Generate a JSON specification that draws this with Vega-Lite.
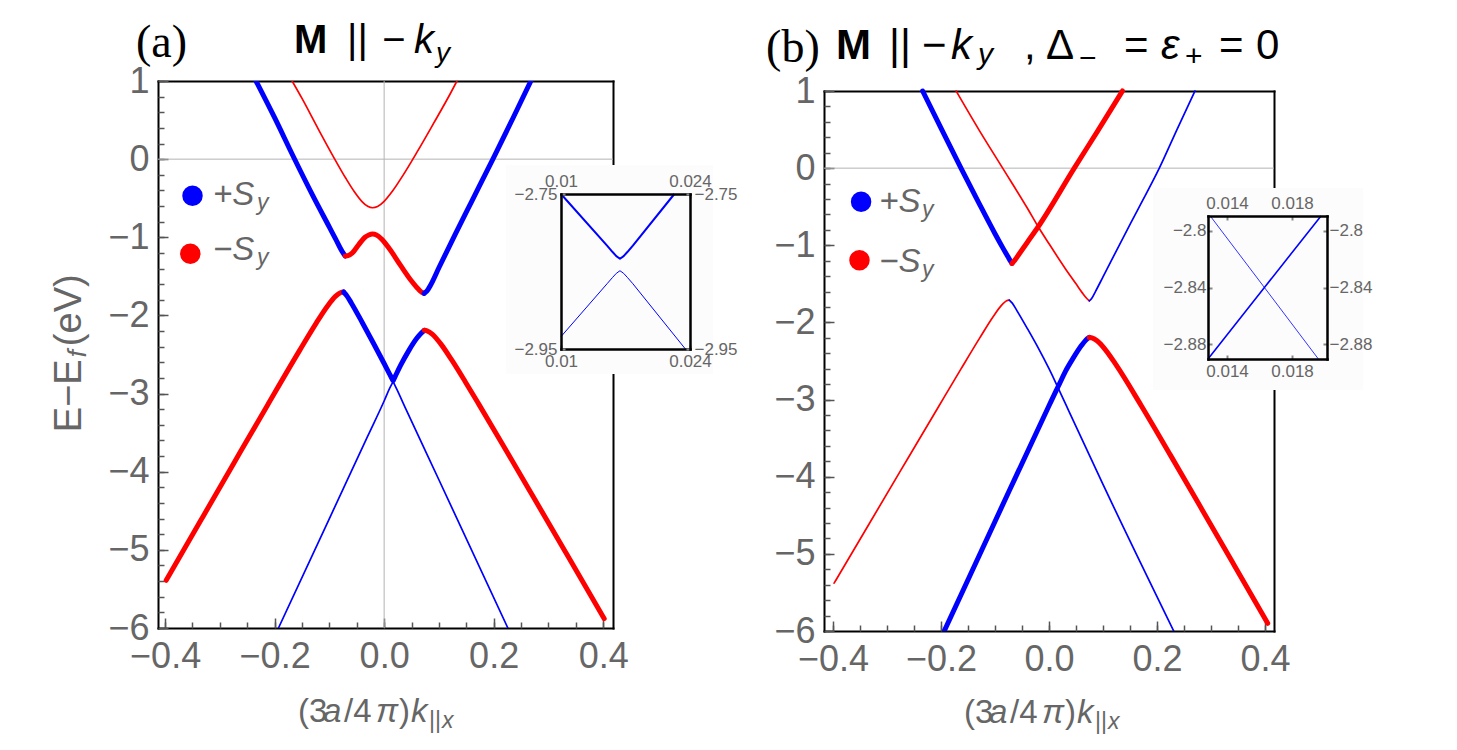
{
  "$schema": "https://vega.github.io/schema/vega-lite/v6.json",
  "background": "white",
  "padding": {"left": 51, "top": 20, "right": 10, "bottom": 10},
  "config": {"view": {"stroke": null}, "text": {"font": "Liberation Sans"}},
  "datasets": {
    "bands": [
      {"panel":"a","seg":"a1","spin":"-Sy","weight":"thin","k":-0.168,"E":1.0},
      {"panel":"a","seg":"a1","spin":"-Sy","weight":"thin","k":-0.15,"E":0.777},
      {"panel":"a","seg":"a1","spin":"-Sy","weight":"thin","k":-0.12,"E":0.382},
      {"panel":"a","seg":"a1","spin":"-Sy","weight":"thin","k":-0.09,"E":-0.002},
      {"panel":"a","seg":"a1","spin":"-Sy","weight":"thin","k":-0.07,"E":-0.245},
      {"panel":"a","seg":"a1","spin":"-Sy","weight":"thin","k":-0.055,"E":-0.411},
      {"panel":"a","seg":"a1","spin":"-Sy","weight":"thin","k":-0.04,"E":-0.546},
      {"panel":"a","seg":"a1","spin":"-Sy","weight":"thin","k":-0.03,"E":-0.604},
      {"panel":"a","seg":"a1","spin":"-Sy","weight":"thin","k":-0.021,"E":-0.622},
      {"panel":"a","seg":"a1","spin":"-Sy","weight":"thin","k":-0.012,"E":-0.606},
      {"panel":"a","seg":"a1","spin":"-Sy","weight":"thin","k":0.0,"E":-0.54},
      {"panel":"a","seg":"a1","spin":"-Sy","weight":"thin","k":0.015,"E":-0.412},
      {"panel":"a","seg":"a1","spin":"-Sy","weight":"thin","k":0.035,"E":-0.201},
      {"panel":"a","seg":"a1","spin":"-Sy","weight":"thin","k":0.06,"E":0.089},
      {"panel":"a","seg":"a1","spin":"-Sy","weight":"thin","k":0.09,"E":0.454},
      {"panel":"a","seg":"a1","spin":"-Sy","weight":"thin","k":0.12,"E":0.827},
      {"panel":"a","seg":"a1","spin":"-Sy","weight":"thin","k":0.133,"E":1.0},

      {"panel":"a","seg":"a2L","spin":"+Sy","weight":"thick","k":-0.234,"E":1.0},
      {"panel":"a","seg":"a2L","spin":"+Sy","weight":"thick","k":-0.2,"E":0.53},
      {"panel":"a","seg":"a2L","spin":"+Sy","weight":"thick","k":-0.167,"E":0.05},
      {"panel":"a","seg":"a2L","spin":"+Sy","weight":"thick","k":-0.13,"E":-0.47},
      {"panel":"a","seg":"a2L","spin":"+Sy","weight":"thick","k":-0.1,"E":-0.87},
      {"panel":"a","seg":"a2L","spin":"+Sy","weight":"thick","k":-0.088,"E":-1.03},
      {"panel":"a","seg":"a2L","spin":"+Sy","weight":"thick","k":-0.08,"E":-1.14},
      {"panel":"a","seg":"a2L","spin":"+Sy","weight":"thick","k":-0.075,"E":-1.2},
      {"panel":"a","seg":"a2L","spin":"+Sy","weight":"thick","k":-0.071,"E":-1.24},

      {"panel":"a","seg":"a2M","spin":"-Sy","weight":"thick","k":-0.071,"E":-1.24},
      {"panel":"a","seg":"a2M","spin":"-Sy","weight":"thick","k":-0.066,"E":-1.235},
      {"panel":"a","seg":"a2M","spin":"-Sy","weight":"thick","k":-0.058,"E":-1.2},
      {"panel":"a","seg":"a2M","spin":"-Sy","weight":"thick","k":-0.046,"E":-1.09},
      {"panel":"a","seg":"a2M","spin":"-Sy","weight":"thick","k":-0.035,"E":-1.0},
      {"panel":"a","seg":"a2M","spin":"-Sy","weight":"thick","k":-0.028,"E":-0.97},
      {"panel":"a","seg":"a2M","spin":"-Sy","weight":"thick","k":-0.021,"E":-0.959},
      {"panel":"a","seg":"a2M","spin":"-Sy","weight":"thick","k":-0.014,"E":-0.97},
      {"panel":"a","seg":"a2M","spin":"-Sy","weight":"thick","k":-0.005,"E":-1.02},
      {"panel":"a","seg":"a2M","spin":"-Sy","weight":"thick","k":0.01,"E":-1.15},
      {"panel":"a","seg":"a2M","spin":"-Sy","weight":"thick","k":0.03,"E":-1.36},
      {"panel":"a","seg":"a2M","spin":"-Sy","weight":"thick","k":0.05,"E":-1.56},
      {"panel":"a","seg":"a2M","spin":"-Sy","weight":"thick","k":0.062,"E":-1.66},
      {"panel":"a","seg":"a2M","spin":"-Sy","weight":"thick","k":0.069,"E":-1.705},
      {"panel":"a","seg":"a2M","spin":"-Sy","weight":"thick","k":0.073,"E":-1.718},

      {"panel":"a","seg":"a2R","spin":"+Sy","weight":"thick","k":0.073,"E":-1.718},
      {"panel":"a","seg":"a2R","spin":"+Sy","weight":"thick","k":0.078,"E":-1.69},
      {"panel":"a","seg":"a2R","spin":"+Sy","weight":"thick","k":0.085,"E":-1.61},
      {"panel":"a","seg":"a2R","spin":"+Sy","weight":"thick","k":0.1,"E":-1.39},
      {"panel":"a","seg":"a2R","spin":"+Sy","weight":"thick","k":0.13,"E":-0.96},
      {"panel":"a","seg":"a2R","spin":"+Sy","weight":"thick","k":0.16,"E":-0.54},
      {"panel":"a","seg":"a2R","spin":"+Sy","weight":"thick","k":0.2,"E":0.02},
      {"panel":"a","seg":"a2R","spin":"+Sy","weight":"thick","k":0.235,"E":0.52},
      {"panel":"a","seg":"a2R","spin":"+Sy","weight":"thick","k":0.268,"E":1.0},

      {"panel":"a","seg":"a3L","spin":"-Sy","weight":"thick","k":-0.398,"E":-5.39},
      {"panel":"a","seg":"a3L","spin":"-Sy","weight":"thick","k":-0.334,"E":-4.6125},
      {"panel":"a","seg":"a3L","spin":"-Sy","weight":"thick","k":-0.274,"E":-3.8849},
      {"panel":"a","seg":"a3L","spin":"-Sy","weight":"thick","k":-0.213,"E":-3.148},
      {"panel":"a","seg":"a3L","spin":"-Sy","weight":"thick","k":-0.154,"E":-2.4441},
      {"panel":"a","seg":"a3L","spin":"-Sy","weight":"thick","k":-0.124,"E":-2.0986},
      {"panel":"a","seg":"a3L","spin":"-Sy","weight":"thick","k":-0.104,"E":-1.886},
      {"panel":"a","seg":"a3L","spin":"-Sy","weight":"thick","k":-0.089,"E":-1.7567},
      {"panel":"a","seg":"a3L","spin":"-Sy","weight":"thick","k":-0.079,"E":-1.7069},
      {"panel":"a","seg":"a3L","spin":"-Sy","weight":"thick","k":-0.074,"E":-1.7},

      {"panel":"a","seg":"a3M","spin":"+Sy","weight":"thick","k":-0.074,"E":-1.7},
      {"panel":"a","seg":"a3M","spin":"+Sy","weight":"thick","k":-0.068,"E":-1.75},
      {"panel":"a","seg":"a3M","spin":"+Sy","weight":"thick","k":-0.06,"E":-1.84},
      {"panel":"a","seg":"a3M","spin":"+Sy","weight":"thick","k":-0.04,"E":-2.09},
      {"panel":"a","seg":"a3M","spin":"+Sy","weight":"thick","k":-0.02,"E":-2.35},
      {"panel":"a","seg":"a3M","spin":"+Sy","weight":"thick","k":0.0,"E":-2.615},
      {"panel":"a","seg":"a3M","spin":"+Sy","weight":"thick","k":0.01,"E":-2.75},
      {"panel":"a","seg":"a3M","spin":"+Sy","weight":"thick","k":0.015,"E":-2.8167},
      {"panel":"a","seg":"a3M","spin":"+Sy","weight":"thick","k":0.0156,"E":-2.8249},
      {"panel":"a","seg":"a3M","spin":"+Sy","weight":"thick","k":0.016,"E":-2.8301},
      {"panel":"a","seg":"a3M","spin":"+Sy","weight":"thick","k":0.0164,"E":-2.8335},
      {"panel":"a","seg":"a3M","spin":"+Sy","weight":"thick","k":0.0168,"E":-2.8301},
      {"panel":"a","seg":"a3M","spin":"+Sy","weight":"thick","k":0.0172,"E":-2.8249},
      {"panel":"a","seg":"a3M","spin":"+Sy","weight":"thick","k":0.0178,"E":-2.8167},
      {"panel":"a","seg":"a3M","spin":"+Sy","weight":"thick","k":0.0223,"E":-2.75},
      {"panel":"a","seg":"a3M","spin":"+Sy","weight":"thick","k":0.03,"E":-2.64},
      {"panel":"a","seg":"a3M","spin":"+Sy","weight":"thick","k":0.045,"E":-2.45},
      {"panel":"a","seg":"a3M","spin":"+Sy","weight":"thick","k":0.06,"E":-2.29},
      {"panel":"a","seg":"a3M","spin":"+Sy","weight":"thick","k":0.068,"E":-2.225},
      {"panel":"a","seg":"a3M","spin":"+Sy","weight":"thick","k":0.0734,"E":-2.19},

      {"panel":"a","seg":"a3R","spin":"-Sy","weight":"thick","k":0.0734,"E":-2.19},
      {"panel":"a","seg":"a3R","spin":"-Sy","weight":"thick","k":0.0784,"E":-2.1962},
      {"panel":"a","seg":"a3R","spin":"-Sy","weight":"thick","k":0.0884,"E":-2.2419},
      {"panel":"a","seg":"a3R","spin":"-Sy","weight":"thick","k":0.1034,"E":-2.364},
      {"panel":"a","seg":"a3R","spin":"-Sy","weight":"thick","k":0.1234,"E":-2.5699},
      {"panel":"a","seg":"a3R","spin":"-Sy","weight":"thick","k":0.1484,"E":-2.8511},
      {"panel":"a","seg":"a3R","spin":"-Sy","weight":"thick","k":0.1739,"E":-3.148},
      {"panel":"a","seg":"a3R","spin":"-Sy","weight":"thick","k":0.2234,"E":-3.7349},
      {"panel":"a","seg":"a3R","spin":"-Sy","weight":"thick","k":0.2734,"E":-4.3333},
      {"panel":"a","seg":"a3R","spin":"-Sy","weight":"thick","k":0.3334,"E":-5.0542},
      {"panel":"a","seg":"a3R","spin":"-Sy","weight":"thick","k":0.402,"E":-5.8802},

      {"panel":"a","seg":"a4","spin":"+Sy","weight":"thin","k":-0.193,"E":-6.0},
      {"panel":"a","seg":"a4","spin":"+Sy","weight":"thin","k":-0.1,"E":-4.6},
      {"panel":"a","seg":"a4","spin":"+Sy","weight":"thin","k":-0.03,"E":-3.545},
      {"panel":"a","seg":"a4","spin":"+Sy","weight":"thin","k":0.0,"E":-3.095},
      {"panel":"a","seg":"a4","spin":"+Sy","weight":"thin","k":0.01,"E":-2.934},
      {"panel":"a","seg":"a4","spin":"+Sy","weight":"thin","k":0.015,"E":-2.8658},
      {"panel":"a","seg":"a4","spin":"+Sy","weight":"thin","k":0.0156,"E":-2.8576},
      {"panel":"a","seg":"a4","spin":"+Sy","weight":"thin","k":0.016,"E":-2.8524},
      {"panel":"a","seg":"a4","spin":"+Sy","weight":"thin","k":0.0164,"E":-2.849},
      {"panel":"a","seg":"a4","spin":"+Sy","weight":"thin","k":0.0168,"E":-2.8524},
      {"panel":"a","seg":"a4","spin":"+Sy","weight":"thin","k":0.0172,"E":-2.8576},
      {"panel":"a","seg":"a4","spin":"+Sy","weight":"thin","k":0.0178,"E":-2.8658},
      {"panel":"a","seg":"a4","spin":"+Sy","weight":"thin","k":0.0235,"E":-2.95},
      {"panel":"a","seg":"a4","spin":"+Sy","weight":"thin","k":0.04,"E":-3.203},
      {"panel":"a","seg":"a4","spin":"+Sy","weight":"thin","k":0.1,"E":-4.103},
      {"panel":"a","seg":"a4","spin":"+Sy","weight":"thin","k":0.226,"E":-6.0},

      {"panel":"b","seg":"b1L","spin":"+Sy","weight":"thick","k":-0.234,"E":1.0},
      {"panel":"b","seg":"b1L","spin":"+Sy","weight":"thick","k":-0.2,"E":0.52},
      {"panel":"b","seg":"b1L","spin":"+Sy","weight":"thick","k":-0.163,"E":0.0},
      {"panel":"b","seg":"b1L","spin":"+Sy","weight":"thick","k":-0.13,"E":-0.45},
      {"panel":"b","seg":"b1L","spin":"+Sy","weight":"thick","k":-0.1,"E":-0.85},
      {"panel":"b","seg":"b1L","spin":"+Sy","weight":"thick","k":-0.085,"E":-1.04},
      {"panel":"b","seg":"b1L","spin":"+Sy","weight":"thick","k":-0.076,"E":-1.15},
      {"panel":"b","seg":"b1L","spin":"+Sy","weight":"thick","k":-0.071,"E":-1.21},
      {"panel":"b","seg":"b1L","spin":"+Sy","weight":"thick","k":-0.0686,"E":-1.235},

      {"panel":"b","seg":"b1R","spin":"-Sy","weight":"thick","k":-0.0686,"E":-1.235},
      {"panel":"b","seg":"b1R","spin":"-Sy","weight":"thick","k":-0.064,"E":-1.2},
      {"panel":"b","seg":"b1R","spin":"-Sy","weight":"thick","k":-0.055,"E":-1.11},
      {"panel":"b","seg":"b1R","spin":"-Sy","weight":"thick","k":-0.04,"E":-0.96},
      {"panel":"b","seg":"b1R","spin":"-Sy","weight":"thick","k":-0.02,"E":-0.76},
      {"panel":"b","seg":"b1R","spin":"-Sy","weight":"thick","k":0.0468,"E":0.0},
      {"panel":"b","seg":"b1R","spin":"-Sy","weight":"thick","k":0.09,"E":0.48},
      {"panel":"b","seg":"b1R","spin":"-Sy","weight":"thick","k":0.136,"E":1.0},

      {"panel":"b","seg":"b2L","spin":"-Sy","weight":"thin","k":-0.172,"E":1.0},
      {"panel":"b","seg":"b2L","spin":"-Sy","weight":"thin","k":-0.13,"E":0.5},
      {"panel":"b","seg":"b2L","spin":"-Sy","weight":"thin","k":-0.0858,"E":0.0},
      {"panel":"b","seg":"b2L","spin":"-Sy","weight":"thin","k":-0.04,"E":-0.52},
      {"panel":"b","seg":"b2L","spin":"-Sy","weight":"thin","k":-0.02,"E":-0.76},
      {"panel":"b","seg":"b2L","spin":"-Sy","weight":"thin","k":0.0,"E":-0.98},
      {"panel":"b","seg":"b2L","spin":"-Sy","weight":"thin","k":0.03,"E":-1.3},
      {"panel":"b","seg":"b2L","spin":"-Sy","weight":"thin","k":0.05,"E":-1.5},
      {"panel":"b","seg":"b2L","spin":"-Sy","weight":"thin","k":0.062,"E":-1.62},
      {"panel":"b","seg":"b2L","spin":"-Sy","weight":"thin","k":0.07,"E":-1.69},
      {"panel":"b","seg":"b2L","spin":"-Sy","weight":"thin","k":0.0746,"E":-1.72},

      {"panel":"b","seg":"b2R","spin":"+Sy","weight":"thin","k":0.0746,"E":-1.72},
      {"panel":"b","seg":"b2R","spin":"+Sy","weight":"thin","k":0.079,"E":-1.69},
      {"panel":"b","seg":"b2R","spin":"+Sy","weight":"thin","k":0.086,"E":-1.6},
      {"panel":"b","seg":"b2R","spin":"+Sy","weight":"thin","k":0.1,"E":-1.41},
      {"panel":"b","seg":"b2R","spin":"+Sy","weight":"thin","k":0.13,"E":-1.0},
      {"panel":"b","seg":"b2R","spin":"+Sy","weight":"thin","k":0.165,"E":-0.53},
      {"panel":"b","seg":"b2R","spin":"+Sy","weight":"thin","k":0.2043,"E":0.0},
      {"panel":"b","seg":"b2R","spin":"+Sy","weight":"thin","k":0.237,"E":0.5},
      {"panel":"b","seg":"b2R","spin":"+Sy","weight":"thin","k":0.2703,"E":1.0},

      {"panel":"b","seg":"b3L","spin":"-Sy","weight":"thin","k":-0.398,"E":-5.38},
      {"panel":"b","seg":"b3L","spin":"-Sy","weight":"thin","k":-0.3335,"E":-4.6158},
      {"panel":"b","seg":"b3L","spin":"-Sy","weight":"thin","k":-0.2735,"E":-3.9056},
      {"panel":"b","seg":"b3L","spin":"-Sy","weight":"thin","k":-0.203,"E":-3.073},
      {"panel":"b","seg":"b3L","spin":"-Sy","weight":"thin","k":-0.1635,"E":-2.6091},
      {"panel":"b","seg":"b3L","spin":"-Sy","weight":"thin","k":-0.1285,"E":-2.2036},
      {"panel":"b","seg":"b3L","spin":"-Sy","weight":"thin","k":-0.1035,"E":-1.9264},
      {"panel":"b","seg":"b3L","spin":"-Sy","weight":"thin","k":-0.0885,"E":-1.7818},
      {"panel":"b","seg":"b3L","spin":"-Sy","weight":"thin","k":-0.0785,"E":-1.7193},
      {"panel":"b","seg":"b3L","spin":"-Sy","weight":"thin","k":-0.0735,"E":-1.71},

      {"panel":"b","seg":"b3R","spin":"+Sy","weight":"thin","k":-0.0735,"E":-1.71},
      {"panel":"b","seg":"b3R","spin":"+Sy","weight":"thin","k":-0.068,"E":-1.75},
      {"panel":"b","seg":"b3R","spin":"+Sy","weight":"thin","k":-0.06,"E":-1.84},
      {"panel":"b","seg":"b3R","spin":"+Sy","weight":"thin","k":-0.04,"E":-2.08},
      {"panel":"b","seg":"b3R","spin":"+Sy","weight":"thin","k":-0.02,"E":-2.33},
      {"panel":"b","seg":"b3R","spin":"+Sy","weight":"thin","k":0.0,"E":-2.6},
      {"panel":"b","seg":"b3R","spin":"+Sy","weight":"thin","k":0.01297,"E":-2.7897},
      {"panel":"b","seg":"b3R","spin":"+Sy","weight":"thin","k":0.0163,"E":-2.84},
      {"panel":"b","seg":"b3R","spin":"+Sy","weight":"thin","k":0.01962,"E":-2.8903},
      {"panel":"b","seg":"b3R","spin":"+Sy","weight":"thin","k":0.0315,"E":-3.07},
      {"panel":"b","seg":"b3R","spin":"+Sy","weight":"thin","k":0.1,"E":-4.1},
      {"panel":"b","seg":"b3R","spin":"+Sy","weight":"thin","k":0.231,"E":-6.0},

      {"panel":"b","seg":"b4L","spin":"+Sy","weight":"thick","k":-0.194,"E":-6.0},
      {"panel":"b","seg":"b4L","spin":"+Sy","weight":"thick","k":-0.1,"E":-4.58},
      {"panel":"b","seg":"b4L","spin":"+Sy","weight":"thick","k":0.0006,"E":-3.07},
      {"panel":"b","seg":"b4L","spin":"+Sy","weight":"thick","k":0.01283,"E":-2.8903},
      {"panel":"b","seg":"b4L","spin":"+Sy","weight":"thick","k":0.0163,"E":-2.84},
      {"panel":"b","seg":"b4L","spin":"+Sy","weight":"thick","k":0.01978,"E":-2.7897},
      {"panel":"b","seg":"b4L","spin":"+Sy","weight":"thick","k":0.03,"E":-2.64},
      {"panel":"b","seg":"b4L","spin":"+Sy","weight":"thick","k":0.045,"E":-2.46},
      {"panel":"b","seg":"b4L","spin":"+Sy","weight":"thick","k":0.06,"E":-2.3},
      {"panel":"b","seg":"b4L","spin":"+Sy","weight":"thick","k":0.068,"E":-2.23},
      {"panel":"b","seg":"b4L","spin":"+Sy","weight":"thick","k":0.0746,"E":-2.195},

      {"panel":"b","seg":"b4R","spin":"-Sy","weight":"thick","k":0.0746,"E":-2.195},
      {"panel":"b","seg":"b4R","spin":"-Sy","weight":"thick","k":0.0796,"E":-2.2005},
      {"panel":"b","seg":"b4R","spin":"-Sy","weight":"thick","k":0.0896,"E":-2.2413},
      {"panel":"b","seg":"b4R","spin":"-Sy","weight":"thick","k":0.1046,"E":-2.355},
      {"panel":"b","seg":"b4R","spin":"-Sy","weight":"thick","k":0.1246,"E":-2.554},
      {"panel":"b","seg":"b4R","spin":"-Sy","weight":"thick","k":0.1704,"E":-3.073},
      {"panel":"b","seg":"b4R","spin":"-Sy","weight":"thick","k":0.2246,"E":-3.717},
      {"panel":"b","seg":"b4R","spin":"-Sy","weight":"thick","k":0.2846,"E":-4.4399},
      {"panel":"b","seg":"b4R","spin":"-Sy","weight":"thick","k":0.3446,"E":-5.1667},
      {"panel":"b","seg":"b4R","spin":"-Sy","weight":"thick","k":0.405,"E":-5.9}
    ],
    "legend": [
      {"panel":"a","spin":"+Sy","k":-0.35,"E":-0.47},
      {"panel":"a","spin":"-Sy","k":-0.354,"E":-1.21},
      {"panel":"b","spin":"+Sy","k":-0.348,"E":-0.436},
      {"panel":"b","spin":"-Sy","k":-0.351,"E":-1.193}
    ],
    "texts": [
      {"panel":"a","role":"tag","text":"(a)","k":-0.4532,"E":1.307},
      {"panel":"a","role":"bold","text":"M","k":-0.1646,"E":1.3585},
      {"panel":"a","role":"plain","text":"||","k":-0.0678,"E":1.3585},
      {"panel":"a","role":"plain","text":"−","k":-0.0035,"E":1.3585},
      {"panel":"a","role":"italic","text":"k","k":0.0546,"E":1.3585},
      {"panel":"a","role":"subIt","text":"y","k":0.0948,"E":1.243},
      {"panel":"a","role":"gray","text":"(3","k":-0.1573,"E":-7.207},
      {"panel":"a","role":"grayIt","text":"a","k":-0.1116,"E":-7.207},
      {"panel":"a","role":"gray","text":"/4","k":-0.0733,"E":-7.207},
      {"panel":"a","role":"grayIt","text":"π","k":-0.0148,"E":-7.207},
      {"panel":"a","role":"gray","text":")","k":0.0272,"E":-7.207},
      {"panel":"a","role":"grayIt","text":"k","k":0.0491,"E":-7.207},
      {"panel":"a","role":"graySub","text":"||","k":0.082,"E":-7.284},
      {"panel":"a","role":"graySubIt","text":"x","k":0.1057,"E":-7.284},
      {"panel":"a","role":"grayIt","text":"+S","k":-0.3125,"E":-0.588},
      {"panel":"a","role":"grayIt","text":"−S","k":-0.3125,"E":-1.292},
      {"panel":"a","role":"graySubIt","text":"y","k":-0.2322,"E":-0.657},
      {"panel":"a","role":"graySubIt","text":"y","k":-0.2322,"E":-1.361},
      {"panel":"a","role":"yTitle","text":"E","k":-0.5536,"E":-3.494},
      {"panel":"a","role":"yTitle","text":"−","k":-0.5536,"E":-3.17},
      {"panel":"a","role":"yTitle","text":"E","k":-0.5536,"E":-2.886},
      {"panel":"a","role":"yTitle","text":"(eV)","k":-0.5536,"E":-2.393},
      {"panel":"a","role":"yTitleSub","text":"f","k":-0.5445,"E":-2.534},

      {"panel":"b","role":"tag","text":"(b)","k":-0.524,"E":1.376},
      {"panel":"b","role":"bold","text":"M","k":-0.3945,"E":1.415},
      {"panel":"b","role":"plain","text":"||","k":-0.2963,"E":1.415},
      {"panel":"b","role":"plain","text":"−","k":-0.2352,"E":1.415},
      {"panel":"b","role":"plain","text":",","k":-0.0463,"E":1.415},
      {"panel":"b","role":"plain","text":"Δ","k":-0.0056,"E":1.415},
      {"panel":"b","role":"plain","text":"=","k":0.139,"E":1.415},
      {"panel":"b","role":"plain","text":"=","k":0.3148,"E":1.415},
      {"panel":"b","role":"plain","text":"0","k":0.3833,"E":1.415},
      {"panel":"b","role":"italic","text":"k","k":-0.1815,"E":1.415},
      {"panel":"b","role":"italic","text":"ε","k":0.2074,"E":1.415},
      {"panel":"b","role":"subIt","text":"y","k":-0.1315,"E":1.35},
      {"panel":"b","role":"subPlain","text":"−","k":0.0555,"E":1.298},
      {"panel":"b","role":"subPlain","text":"+","k":0.2518,"E":1.324},
      {"panel":"b","role":"gray","text":"(3","k":-0.1574,"E":-7.197},
      {"panel":"b","role":"grayIt","text":"a","k":-0.1111,"E":-7.197},
      {"panel":"b","role":"gray","text":"/4","k":-0.0722,"E":-7.197},
      {"panel":"b","role":"grayIt","text":"π","k":-0.013,"E":-7.197},
      {"panel":"b","role":"gray","text":")","k":0.0296,"E":-7.197},
      {"panel":"b","role":"grayIt","text":"k","k":0.0518,"E":-7.197},
      {"panel":"b","role":"graySub","text":"||","k":0.0852,"E":-7.275},
      {"panel":"b","role":"graySubIt","text":"x","k":0.1092,"E":-7.275},
      {"panel":"b","role":"grayIt","text":"+S","k":-0.3143,"E":-0.565},
      {"panel":"b","role":"grayIt","text":"−S","k":-0.3143,"E":-1.344},
      {"panel":"b","role":"graySubIt","text":"y","k":-0.2352,"E":-0.634},
      {"panel":"b","role":"graySubIt","text":"y","k":-0.2352,"E":-1.412}
    ]
  },
  "spacing": 211,
  "bounds": "flush",
  "hconcat": [
    {
      "width": 455,
      "height": 547,
      "layer": [
        {
          "layer": [
            {
              "data": {"values": [{}]},
              "mark": {"type": "rule", "color": "#b3b3b3", "strokeWidth": 1},
              "encoding": {"x": {"datum": 0, "type": "quantitative", "scale": {"domain": [-0.413, 0.418], "nice": false, "zero": false}, "axis": null}}
            },
            {
              "data": {"values": [{}]},
              "mark": {"type": "rule", "color": "#b3b3b3", "strokeWidth": 1},
              "encoding": {"y": {"datum": 0, "type": "quantitative", "scale": {"domain": [-6, 1], "nice": false, "zero": false}, "axis": null}}
            },
            {
              "data": {"name": "bands"},
              "transform": [{"filter": "datum.panel === 'a' && datum.weight === 'thin'"}],
              "mark": {"type": "line", "clip": true, "interpolate": "monotone", "strokeWidth": 1.7, "strokeJoin": "round", "strokeCap": "round"},
              "encoding": {
                "x": {"field": "k", "type": "quantitative", "scale": {"domain": [-0.413, 0.418], "nice": false, "zero": false},
                  "axis": {"orient": "bottom", "values": [-0.4, -0.2, 0, 0.2, 0.4], "ticks": true, "tickSize": -10, "tickColor": "#555555", "tickWidth": 1.5, "labels": false, "domain": false, "grid": false, "title": null}},
                "y": {"field": "E", "type": "quantitative", "scale": {"domain": [-6, 1], "nice": false, "zero": false},
                  "axis": {"orient": "left", "values": [-6, -5, -4, -3, -2, -1, 0, 1], "ticks": true, "tickSize": -10, "tickColor": "#555555", "tickWidth": 1.5, "labels": false, "domain": false, "grid": false, "title": null}},
                "detail": {"field": "seg"},
                "color": {"field": "spin", "type": "nominal", "scale": {"domain": ["+Sy", "-Sy"], "range": ["#0000ff", "#ff0000"]}, "legend": null}
              }
            },
            {
              "data": {"name": "bands"},
              "transform": [{"filter": "datum.panel === 'a' && datum.weight === 'thick'"}],
              "mark": {"type": "line", "clip": true, "interpolate": "monotone", "strokeWidth": 5, "strokeJoin": "round", "strokeCap": "round"},
              "encoding": {
                "x": {"field": "k", "type": "quantitative", "scale": {"domain": [-0.413, 0.418], "nice": false, "zero": false},
                  "axis": {"orient": "bottom", "values": [-0.4, -0.2, 0, 0.2, 0.4], "format": ".1f", "ticks": false, "domain": true, "domainColor": "#000000", "domainWidth": 2, "domainCap": "square", "labelFont": "Liberation Sans", "labelFontSize": 36, "labelColor": "#666666", "labelPadding": 11, "labelFlush": false, "labelOverlap": false, "grid": false, "title": null}},
                "y": {"field": "E", "type": "quantitative", "scale": {"domain": [-6, 1], "nice": false, "zero": false},
                  "axis": {"orient": "left", "values": [-6, -5, -4, -3, -2, -1, 0, 1], "format": "d", "ticks": false, "domain": true, "domainColor": "#000000", "domainWidth": 2, "domainCap": "square", "labelFont": "Liberation Sans", "labelFontSize": 36, "labelColor": "#666666", "labelPadding": 9, "labelOverlap": false, "grid": false, "title": null}},
                "detail": {"field": "seg"},
                "color": {"field": "spin", "type": "nominal", "scale": {"domain": ["+Sy", "-Sy"], "range": ["#0000ff", "#ff0000"]}, "legend": null}
              }
            },
            {
              "data": {"name": "legend"},
              "transform": [{"filter": "datum.panel === 'a'"}],
              "mark": {"type": "point", "shape": "circle", "filled": true, "size": 420, "opacity": 1},
              "encoding": {
                "x": {"field": "k", "type": "quantitative", "scale": {"domain": [-0.413, 0.418], "nice": false, "zero": false},
                  "axis": {"orient": "bottom", "values": [-0.4, -0.35, -0.3, -0.25, -0.2, -0.15, -0.1, -0.05, 0, 0.05, 0.1, 0.15, 0.2, 0.25, 0.3, 0.35, 0.4], "ticks": true, "tickSize": -6, "tickColor": "#555555", "tickWidth": 1.5, "labels": false, "domain": false, "grid": false, "title": null}},
                "y": {"field": "E", "type": "quantitative", "scale": {"domain": [-6, 1], "nice": false, "zero": false},
                  "axis": {"orient": "left", "values": [-6, -5.8, -5.6, -5.4, -5.2, -5, -4.8, -4.6, -4.4, -4.2, -4, -3.8, -3.6, -3.4, -3.2, -3, -2.8, -2.6, -2.4, -2.2, -2, -1.8, -1.6, -1.4, -1.2, -1, -0.8, -0.6, -0.4, -0.2, 0, 0.2, 0.4, 0.6, 0.8, 1], "ticks": true, "tickSize": -6, "tickColor": "#555555", "tickWidth": 1.5, "labels": false, "domain": false, "grid": false, "title": null}},
                "color": {"field": "spin", "type": "nominal", "scale": {"domain": ["+Sy", "-Sy"], "range": ["#0000ff", "#ff0000"]}, "legend": null}
              }
            },
            {
              "data": {"name": "texts"},
              "transform": [{"filter": "datum.panel === 'a' && datum.role === 'tag'"}],
              "mark": {"type": "text", "align": "left", "baseline": "alphabetic", "font": "Liberation Serif", "fontSize": 46, "color": "#000000"},
              "encoding": {
                "x": {"field": "k", "type": "quantitative", "scale": {"domain": [-0.413, 0.418], "nice": false, "zero": false},
                  "axis": {"orient": "top", "ticks": false, "labels": false, "domain": true, "domainColor": "#000000", "domainWidth": 2, "domainCap": "square", "grid": false, "title": null}},
                "y": {"field": "E", "type": "quantitative", "scale": {"domain": [-6, 1], "nice": false, "zero": false},
                  "axis": {"orient": "right", "ticks": false, "labels": false, "domain": true, "domainColor": "#000000", "domainWidth": 2, "domainCap": "square", "grid": false, "title": null}},
                "text": {"field": "text"}
              }
            },
            {
              "data": {"name": "texts"},
              "transform": [{"filter": "datum.panel === 'a' && datum.role === 'bold'"}],
              "mark": {"type": "text", "align": "left", "baseline": "alphabetic", "fontSize": 40, "fontWeight": "bold", "color": "#000000"},
              "encoding": {
                "x": {"field": "k", "type": "quantitative", "scale": {"domain": [-0.413, 0.418], "nice": false, "zero": false}, "axis": null},
                "y": {"field": "E", "type": "quantitative", "scale": {"domain": [-6, 1], "nice": false, "zero": false}, "axis": null},
                "text": {"field": "text"}
              }
            },
            {
              "data": {"name": "texts"},
              "transform": [{"filter": "datum.panel === 'a' && datum.role === 'plain'"}],
              "mark": {"type": "text", "align": "left", "baseline": "alphabetic", "fontSize": 40, "color": "#000000"},
              "encoding": {
                "x": {"field": "k", "type": "quantitative", "scale": {"domain": [-0.413, 0.418], "nice": false, "zero": false}, "axis": null},
                "y": {"field": "E", "type": "quantitative", "scale": {"domain": [-6, 1], "nice": false, "zero": false}, "axis": null},
                "text": {"field": "text"}
              }
            },
            {
              "data": {"name": "texts"},
              "transform": [{"filter": "datum.panel === 'a' && datum.role === 'italic'"}],
              "mark": {"type": "text", "align": "left", "baseline": "alphabetic", "fontSize": 40, "fontStyle": "italic", "color": "#000000"},
              "encoding": {
                "x": {"field": "k", "type": "quantitative", "scale": {"domain": [-0.413, 0.418], "nice": false, "zero": false}, "axis": null},
                "y": {"field": "E", "type": "quantitative", "scale": {"domain": [-6, 1], "nice": false, "zero": false}, "axis": null},
                "text": {"field": "text"}
              }
            },
            {
              "data": {"name": "texts"},
              "transform": [{"filter": "datum.panel === 'a' && datum.role === 'subIt'"}],
              "mark": {"type": "text", "align": "left", "baseline": "alphabetic", "fontSize": 28, "fontStyle": "italic", "color": "#000000"},
              "encoding": {
                "x": {"field": "k", "type": "quantitative", "scale": {"domain": [-0.413, 0.418], "nice": false, "zero": false}, "axis": null},
                "y": {"field": "E", "type": "quantitative", "scale": {"domain": [-6, 1], "nice": false, "zero": false}, "axis": null},
                "text": {"field": "text"}
              }
            },
            {
              "data": {"name": "texts"},
              "transform": [{"filter": "datum.panel === 'a' && datum.role === 'gray'"}],
              "mark": {"type": "text", "align": "left", "baseline": "alphabetic", "fontSize": 33, "color": "#666666"},
              "encoding": {
                "x": {"field": "k", "type": "quantitative", "scale": {"domain": [-0.413, 0.418], "nice": false, "zero": false}, "axis": null},
                "y": {"field": "E", "type": "quantitative", "scale": {"domain": [-6, 1], "nice": false, "zero": false}, "axis": null},
                "text": {"field": "text"}
              }
            },
            {
              "data": {"name": "texts"},
              "transform": [{"filter": "datum.panel === 'a' && datum.role === 'grayIt'"}],
              "mark": {"type": "text", "align": "left", "baseline": "alphabetic", "fontSize": 33, "fontStyle": "italic", "color": "#666666"},
              "encoding": {
                "x": {"field": "k", "type": "quantitative", "scale": {"domain": [-0.413, 0.418], "nice": false, "zero": false}, "axis": null},
                "y": {"field": "E", "type": "quantitative", "scale": {"domain": [-6, 1], "nice": false, "zero": false}, "axis": null},
                "text": {"field": "text"}
              }
            },
            {
              "data": {"name": "texts"},
              "transform": [{"filter": "datum.panel === 'a' && datum.role === 'graySub'"}],
              "mark": {"type": "text", "align": "left", "baseline": "alphabetic", "fontSize": 23, "color": "#666666"},
              "encoding": {
                "x": {"field": "k", "type": "quantitative", "scale": {"domain": [-0.413, 0.418], "nice": false, "zero": false}, "axis": null},
                "y": {"field": "E", "type": "quantitative", "scale": {"domain": [-6, 1], "nice": false, "zero": false}, "axis": null},
                "text": {"field": "text"}
              }
            },
            {
              "data": {"name": "texts"},
              "transform": [{"filter": "datum.panel === 'a' && datum.role === 'graySubIt'"}],
              "mark": {"type": "text", "align": "left", "baseline": "alphabetic", "fontSize": 23, "fontStyle": "italic", "color": "#666666"},
              "encoding": {
                "x": {"field": "k", "type": "quantitative", "scale": {"domain": [-0.413, 0.418], "nice": false, "zero": false}, "axis": null},
                "y": {"field": "E", "type": "quantitative", "scale": {"domain": [-6, 1], "nice": false, "zero": false}, "axis": null},
                "text": {"field": "text"}
              }
            },
            {
              "data": {"name": "texts"},
              "transform": [{"filter": "datum.panel === 'a' && datum.role === 'yTitle'"}],
              "mark": {"type": "text", "align": "left", "baseline": "alphabetic", "angle": 270, "fontSize": 38, "color": "#666666"},
              "encoding": {
                "x": {"field": "k", "type": "quantitative", "scale": {"domain": [-0.413, 0.418], "nice": false, "zero": false}, "axis": null},
                "y": {"field": "E", "type": "quantitative", "scale": {"domain": [-6, 1], "nice": false, "zero": false}, "axis": null},
                "text": {"field": "text"}
              }
            },
            {
              "data": {"name": "texts"},
              "transform": [{"filter": "datum.panel === 'a' && datum.role === 'yTitleSub'"}],
              "mark": {"type": "text", "align": "left", "baseline": "alphabetic", "angle": 270, "fontSize": 26, "fontStyle": "italic", "color": "#666666"},
              "encoding": {
                "x": {"field": "k", "type": "quantitative", "scale": {"domain": [-0.413, 0.418], "nice": false, "zero": false}, "axis": null},
                "y": {"field": "E", "type": "quantitative", "scale": {"domain": [-6, 1], "nice": false, "zero": false}, "axis": null},
                "text": {"field": "text"}
              }
            }
          ],
          "resolve": {"axis": {"x": "independent", "y": "independent"}}
        },
        {
          "layer": [
            {
              "data": {"values": [{}]},
              "mark": {"type": "rect", "fill": "#fcfcfc"},
              "encoding": {
                "x": {"datum": 0.00403, "type": "quantitative", "scale": {"domain": [0.01, 0.024], "range": [403, 532], "nice": false, "zero": false}, "axis": null},
                "x2": {"datum": 0.0265},
                "y": {"datum": -2.9823, "type": "quantitative", "scale": {"domain": [-2.95, -2.75], "range": [268, 113], "nice": false, "zero": false}, "axis": null},
                "y2": {"datum": -2.7126}
              }
            },
            {
              "data": {"name": "bands"},
              "transform": [{"filter": "datum.panel === 'a' && datum.weight === 'thick' && datum.k >= 0.01 && datum.k <= 0.024 && datum.E >= -2.95 && datum.E <= -2.75"}],
              "mark": {"type": "line", "strokeWidth": 2, "strokeJoin": "round"},
              "encoding": {
                "x": {"field": "k", "type": "quantitative", "scale": {"domain": [0.01, 0.024], "range": [403, 532], "nice": false, "zero": false},
                  "axis": {"orient": "bottom", "offset": -279, "values": [0.01, 0.024], "labelExpr": "format(datum.value, '.3~g')", "ticks": true, "tickSize": -4, "tickColor": "#888888", "tickWidth": 2, "domain": true, "domainColor": "#000000", "domainWidth": 2.5, "domainCap": "square", "labelFont": "Liberation Sans", "labelFontSize": 17, "labelColor": "#666666", "labelPadding": 8, "labelFlush": false, "labelOverlap": false, "grid": false, "title": null, "zindex": 1}},
                "y": {"field": "E", "type": "quantitative", "scale": {"domain": [-2.95, -2.75], "range": [268, 113], "nice": false, "zero": false},
                  "axis": {"orient": "left", "offset": -403, "values": [-2.95, -2.75], "labelExpr": "format(datum.value, '.3~g')", "ticks": true, "tickSize": -4, "tickColor": "#888888", "tickWidth": 2, "domain": true, "domainColor": "#000000", "domainWidth": 2.5, "domainCap": "square", "labelFont": "Liberation Sans", "labelFontSize": 17, "labelColor": "#666666", "labelPadding": 8, "labelOverlap": false, "grid": false, "title": null, "zindex": 1}},
                "detail": {"field": "seg"},
                "color": {"field": "spin", "type": "nominal", "scale": {"domain": ["+Sy", "-Sy"], "range": ["#0000ff", "#ff0000"]}, "legend": null}
              }
            },
            {
              "data": {"name": "bands"},
              "transform": [{"filter": "datum.panel === 'a' && datum.weight === 'thin' && datum.k >= 0.01 && datum.k <= 0.024 && datum.E >= -2.95 && datum.E <= -2.75"}],
              "mark": {"type": "line", "strokeWidth": 1, "strokeJoin": "round"},
              "encoding": {
                "x": {"field": "k", "type": "quantitative", "scale": {"domain": [0.01, 0.024], "range": [403, 532], "nice": false, "zero": false},
                  "axis": {"orient": "top", "offset": -113, "values": [0.01, 0.024], "labelExpr": "format(datum.value, '.3~g')", "ticks": true, "tickSize": -4, "tickColor": "#888888", "tickWidth": 2, "domain": true, "domainColor": "#000000", "domainWidth": 2.5, "domainCap": "square", "labelFont": "Liberation Sans", "labelFontSize": 17, "labelColor": "#666666", "labelPadding": 8, "labelFlush": false, "labelOverlap": false, "grid": false, "title": null, "zindex": 1}},
                "y": {"field": "E", "type": "quantitative", "scale": {"domain": [-2.95, -2.75], "range": [268, 113], "nice": false, "zero": false},
                  "axis": {"orient": "right", "offset": 77, "values": [-2.95, -2.75], "labelExpr": "format(datum.value, '.3~g')", "ticks": true, "tickSize": -4, "tickColor": "#888888", "tickWidth": 2, "domain": true, "domainColor": "#000000", "domainWidth": 2.5, "domainCap": "square", "labelFont": "Liberation Sans", "labelFontSize": 17, "labelColor": "#666666", "labelPadding": 8, "labelOverlap": false, "grid": false, "title": null, "zindex": 1}},
                "detail": {"field": "seg"},
                "color": {"field": "spin", "type": "nominal", "scale": {"domain": ["+Sy", "-Sy"], "range": ["#0000ff", "#ff0000"]}, "legend": null}
              }
            }
          ],
          "resolve": {"axis": {"x": "independent", "y": "independent"}}
        }
      ],
      "resolve": {"scale": {"x": "independent", "y": "independent"}}
    },
    {
      "width": 450,
      "height": 550,
      "layer": [
        {
          "layer": [
            {
              "data": {"values": [{}]},
              "mark": {"type": "rule", "color": "#b3b3b3", "strokeWidth": 1},
              "encoding": {"y": {"datum": 0, "type": "quantitative", "scale": {"domain": [-6, 1], "range": [550, 10], "nice": false, "zero": false}, "axis": null}}
            },
            {
              "data": {"name": "bands"},
              "transform": [{"filter": "datum.panel === 'b' && datum.weight === 'thin'"}],
              "mark": {"type": "line", "clip": true, "interpolate": "monotone", "strokeWidth": 1.7, "strokeJoin": "round", "strokeCap": "round"},
              "encoding": {
                "x": {"field": "k", "type": "quantitative", "scale": {"domain": [-0.4167, 0.4167], "nice": false, "zero": false},
                  "axis": {"orient": "bottom", "values": [-0.4, -0.2, 0, 0.2, 0.4], "ticks": true, "tickSize": -10, "tickColor": "#555555", "tickWidth": 1.5, "labels": false, "domain": false, "grid": false, "title": null}},
                "y": {"field": "E", "type": "quantitative", "scale": {"domain": [-6, 1], "range": [550, 10], "nice": false, "zero": false},
                  "axis": {"orient": "left", "values": [-6, -5, -4, -3, -2, -1, 0, 1], "ticks": true, "tickSize": -10, "tickColor": "#555555", "tickWidth": 1.5, "labels": false, "domain": false, "grid": false, "title": null}},
                "detail": {"field": "seg"},
                "color": {"field": "spin", "type": "nominal", "scale": {"domain": ["+Sy", "-Sy"], "range": ["#0000ff", "#ff0000"]}, "legend": null}
              }
            },
            {
              "data": {"name": "bands"},
              "transform": [{"filter": "datum.panel === 'b' && datum.weight === 'thick'"}],
              "mark": {"type": "line", "clip": true, "interpolate": "monotone", "strokeWidth": 5, "strokeJoin": "round", "strokeCap": "round"},
              "encoding": {
                "x": {"field": "k", "type": "quantitative", "scale": {"domain": [-0.4167, 0.4167], "nice": false, "zero": false},
                  "axis": {"orient": "bottom", "values": [-0.4, -0.2, 0, 0.2, 0.4], "format": ".1f", "ticks": false, "domain": true, "domainColor": "#000000", "domainWidth": 2, "domainCap": "square", "labelFont": "Liberation Sans", "labelFontSize": 36, "labelColor": "#666666", "labelPadding": 11, "labelFlush": false, "labelOverlap": false, "grid": false, "title": null}},
                "y": {"field": "E", "type": "quantitative", "scale": {"domain": [-6, 1], "range": [550, 10], "nice": false, "zero": false},
                  "axis": {"orient": "left", "values": [-6, -5, -4, -3, -2, -1, 0, 1], "format": "d", "ticks": false, "domain": true, "domainColor": "#000000", "domainWidth": 2, "domainCap": "square", "labelFont": "Liberation Sans", "labelFontSize": 36, "labelColor": "#666666", "labelPadding": 9, "labelOverlap": false, "grid": false, "title": null}},
                "detail": {"field": "seg"},
                "color": {"field": "spin", "type": "nominal", "scale": {"domain": ["+Sy", "-Sy"], "range": ["#0000ff", "#ff0000"]}, "legend": null}
              }
            },
            {
              "data": {"name": "legend"},
              "transform": [{"filter": "datum.panel === 'b'"}],
              "mark": {"type": "point", "shape": "circle", "filled": true, "size": 420, "opacity": 1},
              "encoding": {
                "x": {"field": "k", "type": "quantitative", "scale": {"domain": [-0.4167, 0.4167], "nice": false, "zero": false},
                  "axis": {"orient": "bottom", "values": [-0.4, -0.35, -0.3, -0.25, -0.2, -0.15, -0.1, -0.05, 0, 0.05, 0.1, 0.15, 0.2, 0.25, 0.3, 0.35, 0.4], "ticks": true, "tickSize": -6, "tickColor": "#555555", "tickWidth": 1.5, "labels": false, "domain": false, "grid": false, "title": null}},
                "y": {"field": "E", "type": "quantitative", "scale": {"domain": [-6, 1], "range": [550, 10], "nice": false, "zero": false},
                  "axis": {"orient": "left", "values": [-6, -5.8, -5.6, -5.4, -5.2, -5, -4.8, -4.6, -4.4, -4.2, -4, -3.8, -3.6, -3.4, -3.2, -3, -2.8, -2.6, -2.4, -2.2, -2, -1.8, -1.6, -1.4, -1.2, -1, -0.8, -0.6, -0.4, -0.2, 0, 0.2, 0.4, 0.6, 0.8, 1], "ticks": true, "tickSize": -6, "tickColor": "#555555", "tickWidth": 1.5, "labels": false, "domain": false, "grid": false, "title": null}},
                "color": {"field": "spin", "type": "nominal", "scale": {"domain": ["+Sy", "-Sy"], "range": ["#0000ff", "#ff0000"]}, "legend": null}
              }
            },
            {
              "data": {"name": "texts"},
              "transform": [{"filter": "datum.panel === 'b' && datum.role === 'tag'"}],
              "mark": {"type": "text", "align": "left", "baseline": "alphabetic", "font": "Liberation Serif", "fontSize": 46, "color": "#000000"},
              "encoding": {
                "x": {"field": "k", "type": "quantitative", "scale": {"domain": [-0.4167, 0.4167], "nice": false, "zero": false},
                  "axis": {"orient": "top", "offset": -10, "ticks": false, "labels": false, "domain": true, "domainColor": "#000000", "domainWidth": 2, "domainCap": "square", "grid": false, "title": null}},
                "y": {"field": "E", "type": "quantitative", "scale": {"domain": [-6, 1], "range": [550, 10], "nice": false, "zero": false},
                  "axis": {"orient": "right", "ticks": false, "labels": false, "domain": true, "domainColor": "#000000", "domainWidth": 2, "domainCap": "square", "grid": false, "title": null}},
                "text": {"field": "text"}
              }
            },
            {
              "data": {"name": "texts"},
              "transform": [{"filter": "datum.panel === 'b' && datum.role === 'bold'"}],
              "mark": {"type": "text", "align": "left", "baseline": "alphabetic", "fontSize": 42, "fontWeight": "bold", "color": "#000000"},
              "encoding": {
                "x": {"field": "k", "type": "quantitative", "scale": {"domain": [-0.4167, 0.4167], "nice": false, "zero": false}, "axis": null},
                "y": {"field": "E", "type": "quantitative", "scale": {"domain": [-6, 1], "range": [550, 10], "nice": false, "zero": false}, "axis": null},
                "text": {"field": "text"}
              }
            },
            {
              "data": {"name": "texts"},
              "transform": [{"filter": "datum.panel === 'b' && datum.role === 'plain'"}],
              "mark": {"type": "text", "align": "left", "baseline": "alphabetic", "fontSize": 42, "color": "#000000"},
              "encoding": {
                "x": {"field": "k", "type": "quantitative", "scale": {"domain": [-0.4167, 0.4167], "nice": false, "zero": false}, "axis": null},
                "y": {"field": "E", "type": "quantitative", "scale": {"domain": [-6, 1], "range": [550, 10], "nice": false, "zero": false}, "axis": null},
                "text": {"field": "text"}
              }
            },
            {
              "data": {"name": "texts"},
              "transform": [{"filter": "datum.panel === 'b' && datum.role === 'italic'"}],
              "mark": {"type": "text", "align": "left", "baseline": "alphabetic", "fontSize": 42, "fontStyle": "italic", "color": "#000000"},
              "encoding": {
                "x": {"field": "k", "type": "quantitative", "scale": {"domain": [-0.4167, 0.4167], "nice": false, "zero": false}, "axis": null},
                "y": {"field": "E", "type": "quantitative", "scale": {"domain": [-6, 1], "range": [550, 10], "nice": false, "zero": false}, "axis": null},
                "text": {"field": "text"}
              }
            },
            {
              "data": {"name": "texts"},
              "transform": [{"filter": "datum.panel === 'b' && datum.role === 'subIt'"}],
              "mark": {"type": "text", "align": "left", "baseline": "alphabetic", "fontSize": 30, "fontStyle": "italic", "color": "#000000"},
              "encoding": {
                "x": {"field": "k", "type": "quantitative", "scale": {"domain": [-0.4167, 0.4167], "nice": false, "zero": false}, "axis": null},
                "y": {"field": "E", "type": "quantitative", "scale": {"domain": [-6, 1], "range": [550, 10], "nice": false, "zero": false}, "axis": null},
                "text": {"field": "text"}
              }
            },
            {
              "data": {"name": "texts"},
              "transform": [{"filter": "datum.panel === 'b' && datum.role === 'subPlain'"}],
              "mark": {"type": "text", "align": "left", "baseline": "alphabetic", "fontSize": 30, "color": "#000000"},
              "encoding": {
                "x": {"field": "k", "type": "quantitative", "scale": {"domain": [-0.4167, 0.4167], "nice": false, "zero": false}, "axis": null},
                "y": {"field": "E", "type": "quantitative", "scale": {"domain": [-6, 1], "range": [550, 10], "nice": false, "zero": false}, "axis": null},
                "text": {"field": "text"}
              }
            },
            {
              "data": {"name": "texts"},
              "transform": [{"filter": "datum.panel === 'b' && datum.role === 'gray'"}],
              "mark": {"type": "text", "align": "left", "baseline": "alphabetic", "fontSize": 33, "color": "#666666"},
              "encoding": {
                "x": {"field": "k", "type": "quantitative", "scale": {"domain": [-0.4167, 0.4167], "nice": false, "zero": false}, "axis": null},
                "y": {"field": "E", "type": "quantitative", "scale": {"domain": [-6, 1], "range": [550, 10], "nice": false, "zero": false}, "axis": null},
                "text": {"field": "text"}
              }
            },
            {
              "data": {"name": "texts"},
              "transform": [{"filter": "datum.panel === 'b' && datum.role === 'grayIt'"}],
              "mark": {"type": "text", "align": "left", "baseline": "alphabetic", "fontSize": 33, "fontStyle": "italic", "color": "#666666"},
              "encoding": {
                "x": {"field": "k", "type": "quantitative", "scale": {"domain": [-0.4167, 0.4167], "nice": false, "zero": false}, "axis": null},
                "y": {"field": "E", "type": "quantitative", "scale": {"domain": [-6, 1], "range": [550, 10], "nice": false, "zero": false}, "axis": null},
                "text": {"field": "text"}
              }
            },
            {
              "data": {"name": "texts"},
              "transform": [{"filter": "datum.panel === 'b' && datum.role === 'graySub'"}],
              "mark": {"type": "text", "align": "left", "baseline": "alphabetic", "fontSize": 23, "color": "#666666"},
              "encoding": {
                "x": {"field": "k", "type": "quantitative", "scale": {"domain": [-0.4167, 0.4167], "nice": false, "zero": false}, "axis": null},
                "y": {"field": "E", "type": "quantitative", "scale": {"domain": [-6, 1], "range": [550, 10], "nice": false, "zero": false}, "axis": null},
                "text": {"field": "text"}
              }
            },
            {
              "data": {"name": "texts"},
              "transform": [{"filter": "datum.panel === 'b' && datum.role === 'graySubIt'"}],
              "mark": {"type": "text", "align": "left", "baseline": "alphabetic", "fontSize": 23, "fontStyle": "italic", "color": "#666666"},
              "encoding": {
                "x": {"field": "k", "type": "quantitative", "scale": {"domain": [-0.4167, 0.4167], "nice": false, "zero": false}, "axis": null},
                "y": {"field": "E", "type": "quantitative", "scale": {"domain": [-6, 1], "range": [550, 10], "nice": false, "zero": false}, "axis": null},
                "text": {"field": "text"}
              }
            }
          ],
          "resolve": {"axis": {"x": "independent", "y": "independent"}}
        },
        {
          "layer": [
            {
              "data": {"values": [{}]},
              "mark": {"type": "rect", "fill": "#fcfcfc"},
              "encoding": {
                "x": {"datum": 0.009445, "type": "quantitative", "scale": {"domain": [0.01283, 0.02015], "range": [384, 503], "nice": false, "zero": false}, "axis": null},
                "x2": {"datum": 0.02237},
                "y": {"datum": -2.9121, "type": "quantitative", "scale": {"domain": [-2.8903, -2.7897], "range": [278, 135], "nice": false, "zero": false}, "axis": null},
                "y2": {"datum": -2.77}
              }
            },
            {
              "data": {"name": "bands"},
              "transform": [{"filter": "datum.panel === 'b' && datum.weight === 'thick' && datum.k >= 0.01283 && datum.k <= 0.02015 && datum.E >= -2.8903 && datum.E <= -2.7897"}],
              "mark": {"type": "line", "strokeWidth": 1.6, "strokeJoin": "round"},
              "encoding": {
                "x": {"field": "k", "type": "quantitative", "scale": {"domain": [0.01283, 0.02015], "range": [384, 503], "nice": false, "zero": false},
                  "axis": {"orient": "bottom", "offset": -272, "values": [0.014, 0.018], "labelExpr": "format(datum.value, '.3~g')", "ticks": true, "tickSize": -4, "tickColor": "#888888", "tickWidth": 2, "domain": true, "domainColor": "#000000", "domainWidth": 2.5, "domainCap": "square", "labelFont": "Liberation Sans", "labelFontSize": 17, "labelColor": "#666666", "labelPadding": 8, "labelFlush": false, "labelOverlap": false, "grid": false, "title": null, "zindex": 1}},
                "y": {"field": "E", "type": "quantitative", "scale": {"domain": [-2.8903, -2.7897], "range": [278, 135], "nice": false, "zero": false},
                  "axis": {"orient": "left", "offset": -384, "values": [-2.88, -2.84, -2.8], "labelExpr": "format(datum.value, '.3~g')", "ticks": true, "tickSize": -4, "tickColor": "#888888", "tickWidth": 2, "domain": true, "domainColor": "#000000", "domainWidth": 2.5, "domainCap": "square", "labelFont": "Liberation Sans", "labelFontSize": 17, "labelColor": "#666666", "labelPadding": 6, "labelOverlap": false, "grid": false, "title": null, "zindex": 1}},
                "detail": {"field": "seg"},
                "color": {"field": "spin", "type": "nominal", "scale": {"domain": ["+Sy", "-Sy"], "range": ["#0000ff", "#ff0000"]}, "legend": null}
              }
            },
            {
              "data": {"name": "bands"},
              "transform": [{"filter": "datum.panel === 'b' && datum.weight === 'thin' && datum.k >= 0.01283 && datum.k <= 0.02015 && datum.E >= -2.8903 && datum.E <= -2.7897"}],
              "mark": {"type": "line", "strokeWidth": 0.8, "strokeJoin": "round"},
              "encoding": {
                "x": {"field": "k", "type": "quantitative", "scale": {"domain": [0.01283, 0.02015], "range": [384, 503], "nice": false, "zero": false},
                  "axis": {"orient": "top", "offset": -135, "values": [0.014, 0.018], "labelExpr": "format(datum.value, '.3~g')", "ticks": true, "tickSize": -4, "tickColor": "#888888", "tickWidth": 2, "domain": true, "domainColor": "#000000", "domainWidth": 2.5, "domainCap": "square", "labelFont": "Liberation Sans", "labelFontSize": 17, "labelColor": "#666666", "labelPadding": 8, "labelFlush": false, "labelOverlap": false, "grid": false, "title": null, "zindex": 1}},
                "y": {"field": "E", "type": "quantitative", "scale": {"domain": [-2.8903, -2.7897], "range": [278, 135], "nice": false, "zero": false},
                  "axis": {"orient": "right", "offset": 53, "values": [-2.88, -2.84, -2.8], "labelExpr": "format(datum.value, '.3~g')", "ticks": true, "tickSize": -4, "tickColor": "#888888", "tickWidth": 2, "domain": true, "domainColor": "#000000", "domainWidth": 2.5, "domainCap": "square", "labelFont": "Liberation Sans", "labelFontSize": 17, "labelColor": "#666666", "labelPadding": 6, "labelOverlap": false, "grid": false, "title": null, "zindex": 1}},
                "detail": {"field": "seg"},
                "color": {"field": "spin", "type": "nominal", "scale": {"domain": ["+Sy", "-Sy"], "range": ["#0000ff", "#ff0000"]}, "legend": null}
              }
            }
          ],
          "resolve": {"axis": {"x": "independent", "y": "independent"}}
        }
      ],
      "resolve": {"scale": {"x": "independent", "y": "independent"}}
    }
  ]
}
